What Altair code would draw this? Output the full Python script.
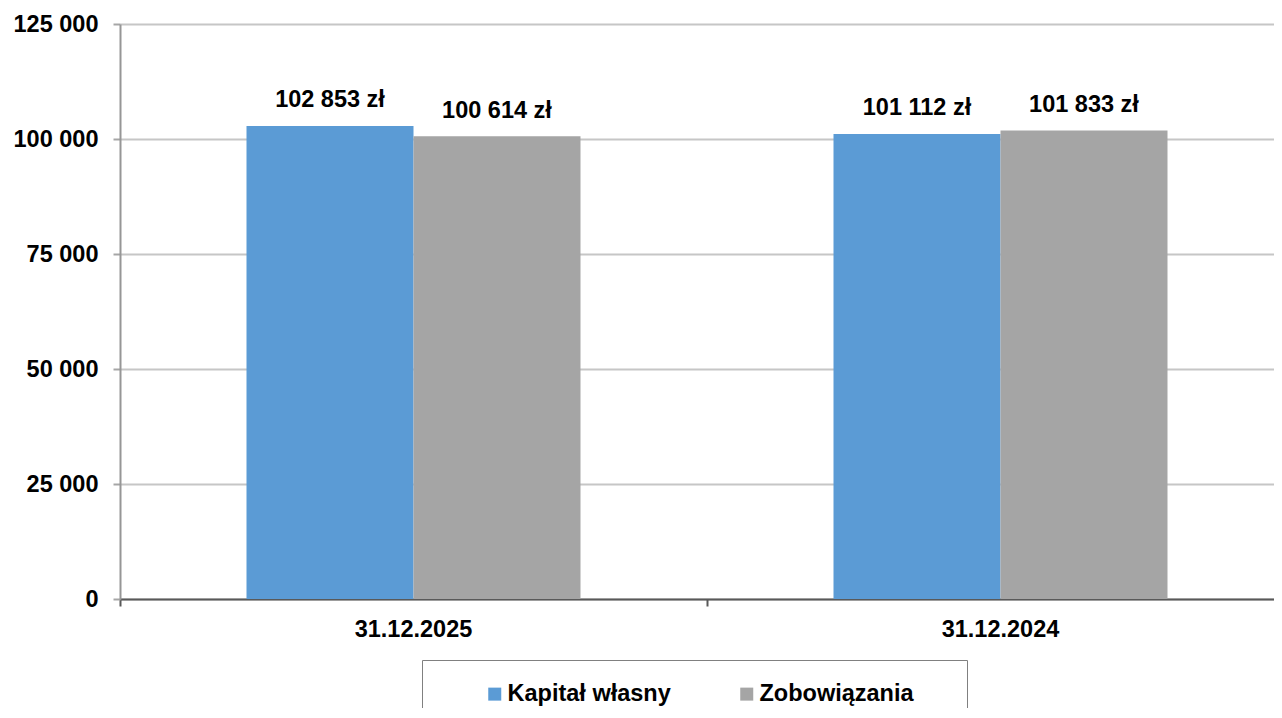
import altair as alt
import pandas as pd

# ---- data ----
dates = ["31.12.2025", "31.12.2024"]
series = ["Kapitał własny", "Zobowiązania"]
kapital_wlasny = [102853, 101112]
zobowiazania = [100614, 101833]
colors = ["#5B9BD5", "#A5A5A5"]
y_ticks = [0, 25000, 50000, 75000, 100000, 125000]

rows = []
for i, d in enumerate(dates):
    rows.append({"date": d, "series": series[0], "value": kapital_wlasny[i]})
    rows.append({"date": d, "series": series[1], "value": zobowiazania[i]})
df = pd.DataFrame(rows)
df["label"] = df["value"].map(lambda v: f"{v:,}".replace(",", " ") + " zł")

FONT = "Liberation Sans"
FS = 23.5
NB = "\u00a0"
TAIL = NB * 2 + "\u2800"   # invisible trailing spacer widening the legend box

x = alt.X(
    "date:N", sort=dates, title=None,
    scale=alt.Scale(range=[0, 1174], paddingInner=0, paddingOuter=0),
    axis=alt.Axis(
        labelAngle=0, bandPosition=0, grid=False,
        domainColor="#595959", domainWidth=2,
        tickColor="#595959", tickWidth=2, tickSize=7,
        labelPadding=11, labelFont=FONT, labelFontSize=FS,
        labelFontWeight="bold", labelColor="#000000",
    ),
)
xo = alt.XOffset("series:N", sort=series,
                 scale=alt.Scale(paddingInner=0, paddingOuter=0.7575))
y = alt.Y(
    "value:Q", title=None,
    scale=alt.Scale(domain=[0, 125000], nice=False, zero=True),
    axis=alt.Axis(
        values=y_ticks,
        labelExpr="replace(format(datum.value, ','), ',', ' ')",
        domainColor="#969696", domainWidth=2,
        tickColor="#a6a6a6", tickWidth=2, tickSize=7,
        gridColor="#c6c6c6", gridWidth=2,
        labelPadding=15, labelFont=FONT, labelFontSize=FS,
        labelFontWeight="bold", labelColor="#000000",
        labelFlush=False, labelOverlap=False,
    ),
)
color = alt.Color(
    "series:N", sort=series,
    scale=alt.Scale(domain=series, range=colors),
    legend=alt.Legend(
        orient="none", legendX=302, legendY=636,
        direction="horizontal", columns=2,
        title=NB, titleOrient="left", titleFontSize=1, titlePadding=39,
        padding=22, strokeColor="#808080",
        symbolType="square", symbolSize=169, symbolStrokeWidth=0,
        labelOffset=1, columnPadding=33, labelLimit=0,
        labelFont=FONT, labelFontSize=FS, labelFontWeight="bold",
        labelColor="#000000",
        labelExpr="datum.label + '" + TAIL + "'",
    ),
)

bars = alt.Chart(df).mark_bar().encode(x=x, xOffset=xo, y=y, color=color)
labels = alt.Chart(df).mark_text(
    font=FONT, fontSize=FS, fontWeight="bold", color="#000000",
    baseline="alphabetic", dy=-18.5,
).encode(x=x, xOffset=xo, y=y, text="label:N")

chart = (
    alt.layer(bars, labels)
    .properties(
        width=1154, height=575,
        autosize=alt.AutoSizeParams(type="none"),
        padding={"left": 112, "top": 16, "right": 0, "bottom": 109},
        background="white",
    )
    .configure_view(stroke=None)
)

chart.save("out.html", embed_options={"renderer": "svg", "actions": False})
